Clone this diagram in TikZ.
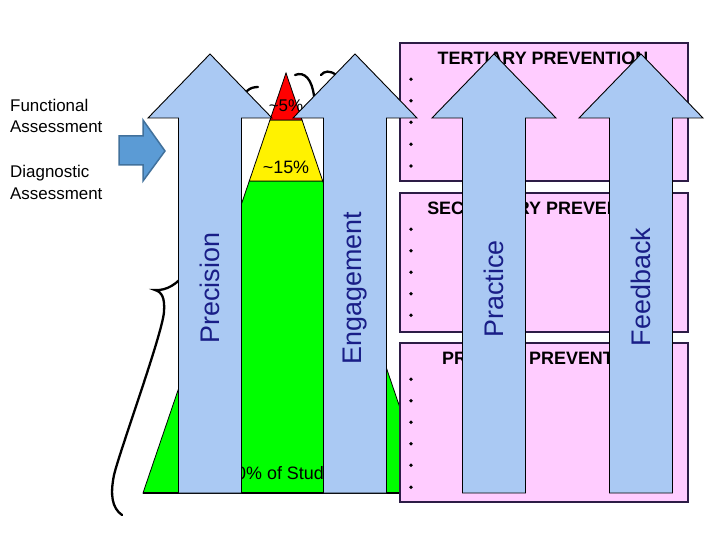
\documentclass[tikz,border=0pt]{standalone}
\usepackage{fontspec}
\setmainfont{Liberation Sans}
\definecolor{arrowblue}{RGB}{170,201,243}
\definecolor{labelnavy}{RGB}{25,30,135}
\definecolor{pinkfill}{RGB}{255,204,255}
\definecolor{pinkedge}{RGB}{45,28,70}
\definecolor{leftfill}{RGB}{91,155,213}
\definecolor{leftedge}{RGB}{65,113,156}
\tikzset{
  layer/.style={draw=black, line width=0.8bp},
  handbrace/.style={draw=black, line width=2.3bp, line cap=round},
  pinkbox/.style={draw=pinkedge, fill=pinkfill, line width=1.5bp},
  boxtitle/.style={font=\fontsize{18}{20}\selectfont\bfseries, inner sep=0pt},
  bulletdot/.style={fill=black, draw=none},
  bigarrow/.style={draw=black, fill=arrowblue, line width=0.9bp, line join=miter},
  arrowlabel/.style={rotate=90, font=\fontsize{27}{30}\selectfont, text=labelnavy, inner sep=0pt},
  pyrtext/.style={font=\fontsize{18}{20}\selectfont, inner sep=0pt},
  sidetext/.style={font=\fontsize{17}{21.5}\selectfont, align=left, anchor=west, inner sep=0pt},
  uparr/.pic={\path[bigarrow] (-31.5,493) -- (-31.5,118) -- (-62,118) -- (0,54) -- (62,118) -- (31.5,118) -- (31.5,493) -- cycle;}
}
\begin{document}
\begin{tikzpicture}[x=1bp,y=-1bp]
\useasboundingbox (0,0) rectangle (720,540);
\fill[white] (0,0) rectangle (720,540);

% pyramid
\path[layer, fill=green] (249.3,181) -- (322.7,181) -- (429,493) -- (143,493) -- cycle;
\path[layer, fill=yellow] (270,120) -- (302,120) -- (322.7,181) -- (249.3,181) -- cycle;
\path[layer, fill=red] (286,73) -- (302,120) -- (270,120) -- cycle;
\draw[line width=2bp] (143,493) -- (429,493);
\node[pyrtext, font=\fontsize{17}{20}\selectfont] (p5) at (286,106) {\textasciitilde5\%};
\node[pyrtext] (p15) at (286,167) {\textasciitilde15\%};
\node[pyrtext] (p80) at (292,473) {80\% of Students};

% hand-drawn braces
\draw[handbrace] (247,91) .. controls (250,88) and (254,87) .. (258,87);
\draw[handbrace] (295,75) .. controls (305,71) and (312,80) .. (314,96);
\draw[handbrace] (321,75) .. controls (324,71) and (330,70) .. (336,75);
\draw[handbrace] (186,272) .. controls (178,284) and (166,291) .. (155,290)
  .. controls (162,292) and (165,298) .. (164,312)
  .. controls (162,335) and (120,450) .. (114,475)
  .. controls (110,495) and (112,508) .. (122,515);

% prevention boxes
\path[pinkbox] (400,43) rectangle (688,181);
\path[pinkbox] (400,193) rectangle (688,332);
\path[pinkbox] (400,343) rectangle (688,502);
\node[boxtitle] (tert) at (543,58) {TERTIARY PREVENTION};
\node[boxtitle] (seco) at (545,208) {SECONDARY PREVENTION};
\node[boxtitle] (prim) at (544,358) {PRIMARY PREVENTION};
\foreach \y in {79.3,100.7,122.3,144.3,166} {\fill[bulletdot] (411,\y) circle (1.9);}
\foreach \y in {229.3,250.7,272.3,293.7,315.3} {\fill[bulletdot] (411,\y) circle (1.9);}
\foreach \y in {379.3,400.7,422.3,443.7,465.3,487.3} {\fill[bulletdot] (411,\y) circle (1.9);}

% big up arrows
\pic at (210,0) {uparr};
\pic at (355,0) {uparr};
\pic at (494,0) {uparr};
\pic at (641,0) {uparr};
\node[arrowlabel] (prec) at (210,288) {Precision};
\node[arrowlabel] (enga) at (355,288) {Engagement};
\node[arrowlabel] (prac) at (494,289) {Practice};
\node[arrowlabel] (feed) at (641,287) {Feedback};

% left side
\path[draw=leftedge, fill=leftfill, line width=1.5bp] (119,136) -- (143,136) -- (143,120) -- (165,151) -- (143,181) -- (143,165) -- (119,165) -- cycle;
\node[sidetext] (func) at (10,116) {Functional\\Assessment};
\node[sidetext] (diag) at (10,182.5) {Diagnostic\\Assessment};
\end{tikzpicture}
\end{document}
